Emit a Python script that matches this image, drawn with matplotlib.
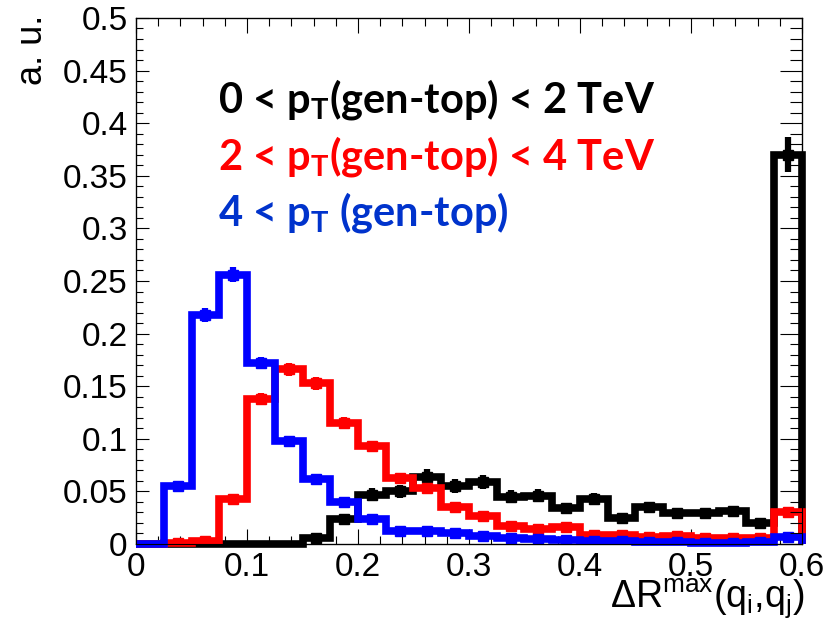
import numpy as np
import matplotlib
matplotlib.use("Agg")
import matplotlib.pyplot as plt
from matplotlib.ticker import MultipleLocator, FuncFormatter

plt.rcParams['font.family'] = ['Liberation Sans', 'DejaVu Sans']
plt.rcParams['mathtext.default'] = 'regular'

# bins of dR_max(q_i, q_j), width 0.025 from 0 to 0.6
bin_width = 0.025
edges = np.arange(25) * bin_width

# normalised distributions for the three gen-top pT ranges
pt_low = [0, 0, 0, 0, 0, 0, 0.006, 0.024, 0.047, 0.050, 0.064, 0.055,
          0.059, 0.045, 0.046, 0.034, 0.043, 0.025, 0.035, 0.029, 0.029,
          0.031, 0.020, 0.370]
pt_mid = [0, 0.001, 0.003, 0.043, 0.138, 0.166, 0.153, 0.115, 0.093, 0.063,
          0.053, 0.035, 0.027, 0.017, 0.014, 0.016, 0.009, 0.009, 0.007,
          0.008, 0.006, 0.006, 0.006, 0.030]
pt_high = [0, 0.055, 0.218, 0.256, 0.172, 0.098, 0.062, 0.040, 0.024, 0.012,
           0.012, 0.010, 0.008, 0.006, 0.005, 0.004, 0.003, 0.003, 0.002,
           0.002, 0.001, 0.001, 0.002, 0.007]

# effective number of entries per sample, used for the stat. errors
n_entries = [1300, 4000, 5000]

labels = [r'0 < p$_{T}$(gen-top) < 2 TeV',
          r'2 < p$_{T}$(gen-top) < 4 TeV',
          r'4 < p$_{T}$ (gen-top)']
hist_colors = ['black', '#ff0000', '#0000ff']
text_colors = ['black', '#ff0000', '#0033cc']

fig = plt.figure(figsize=(8.36, 6.24), dpi=100)
ax = fig.add_axes([0.1627, 0.1282, 0.7966, 0.8430])

centres = edges[:-1] + bin_width / 2
for i, vals in enumerate([pt_low, pt_mid, pt_high]):
    vals = np.array(vals)
    err = np.sqrt(vals / n_entries[i])
    ax.stairs(vals, edges, color=hist_colors[i], lw=5.5, baseline=0,
              zorder=3 + i, clip_on=False)
    m = vals > 0
    ax.errorbar(centres[m], vals[m], yerr=err[m], fmt='s',
                color=hist_colors[i], ms=6.5, elinewidth=4.5, capsize=0,
                zorder=3 + i)

ax.set_xlim(0, 0.6)
ax.set_ylim(0, 0.5)
fmt = FuncFormatter(lambda v, p: f'{v:g}')
ax.xaxis.set_major_locator(MultipleLocator(0.1))
ax.xaxis.set_minor_locator(MultipleLocator(0.02))
ax.yaxis.set_major_locator(MultipleLocator(0.05))
ax.yaxis.set_minor_locator(MultipleLocator(0.01))
ax.xaxis.set_major_formatter(fmt)
ax.yaxis.set_major_formatter(fmt)

ax.tick_params(axis='x', which='both', direction='in', top=True, width=0.8)
ax.tick_params(axis='x', which='major', length=11, labelsize=24, pad=6)
ax.tick_params(axis='x', which='minor', length=5.5)
ax.tick_params(axis='y', which='both', direction='in', right=False, width=0.8)
ax.tick_params(axis='y', which='major', length=9, labelsize=24, pad=6)
ax.tick_params(axis='y', which='minor', length=5)
for s in ax.spines.values():
    s.set_linewidth(0.9)

# right-hand axis has longer ticks
ax2 = ax.twinx()
ax2.set_ylim(0, 0.5)
ax2.yaxis.set_major_locator(MultipleLocator(0.05))
ax2.yaxis.set_minor_locator(MultipleLocator(0.01))
ax2.tick_params(axis='y', which='both', direction='in', labelright=False,
                width=0.8)
ax2.tick_params(axis='y', which='major', length=16)
ax2.tick_params(axis='y', which='minor', length=9)

fig.text(0.962, 1 - 608 / 624, r'ΔR$^{max}$(q$_{i}$,q$_{j}$)',
         ha='right', va='baseline', fontsize=27)
fig.text(33 / 836, 1 - 15 / 624, 'a. u.', rotation=90, ha='center',
         va='top', fontsize=26)

for i, (lab, y) in enumerate(zip(labels, [113, 170, 225])):
    fig.text(218 / 836, 1 - y / 624, lab, color=text_colors[i],
             family=['Lato', 'DejaVu Sans'], weight='bold', fontsize=30,
             va='baseline')

fig.savefig('out.png', dpi=100)
